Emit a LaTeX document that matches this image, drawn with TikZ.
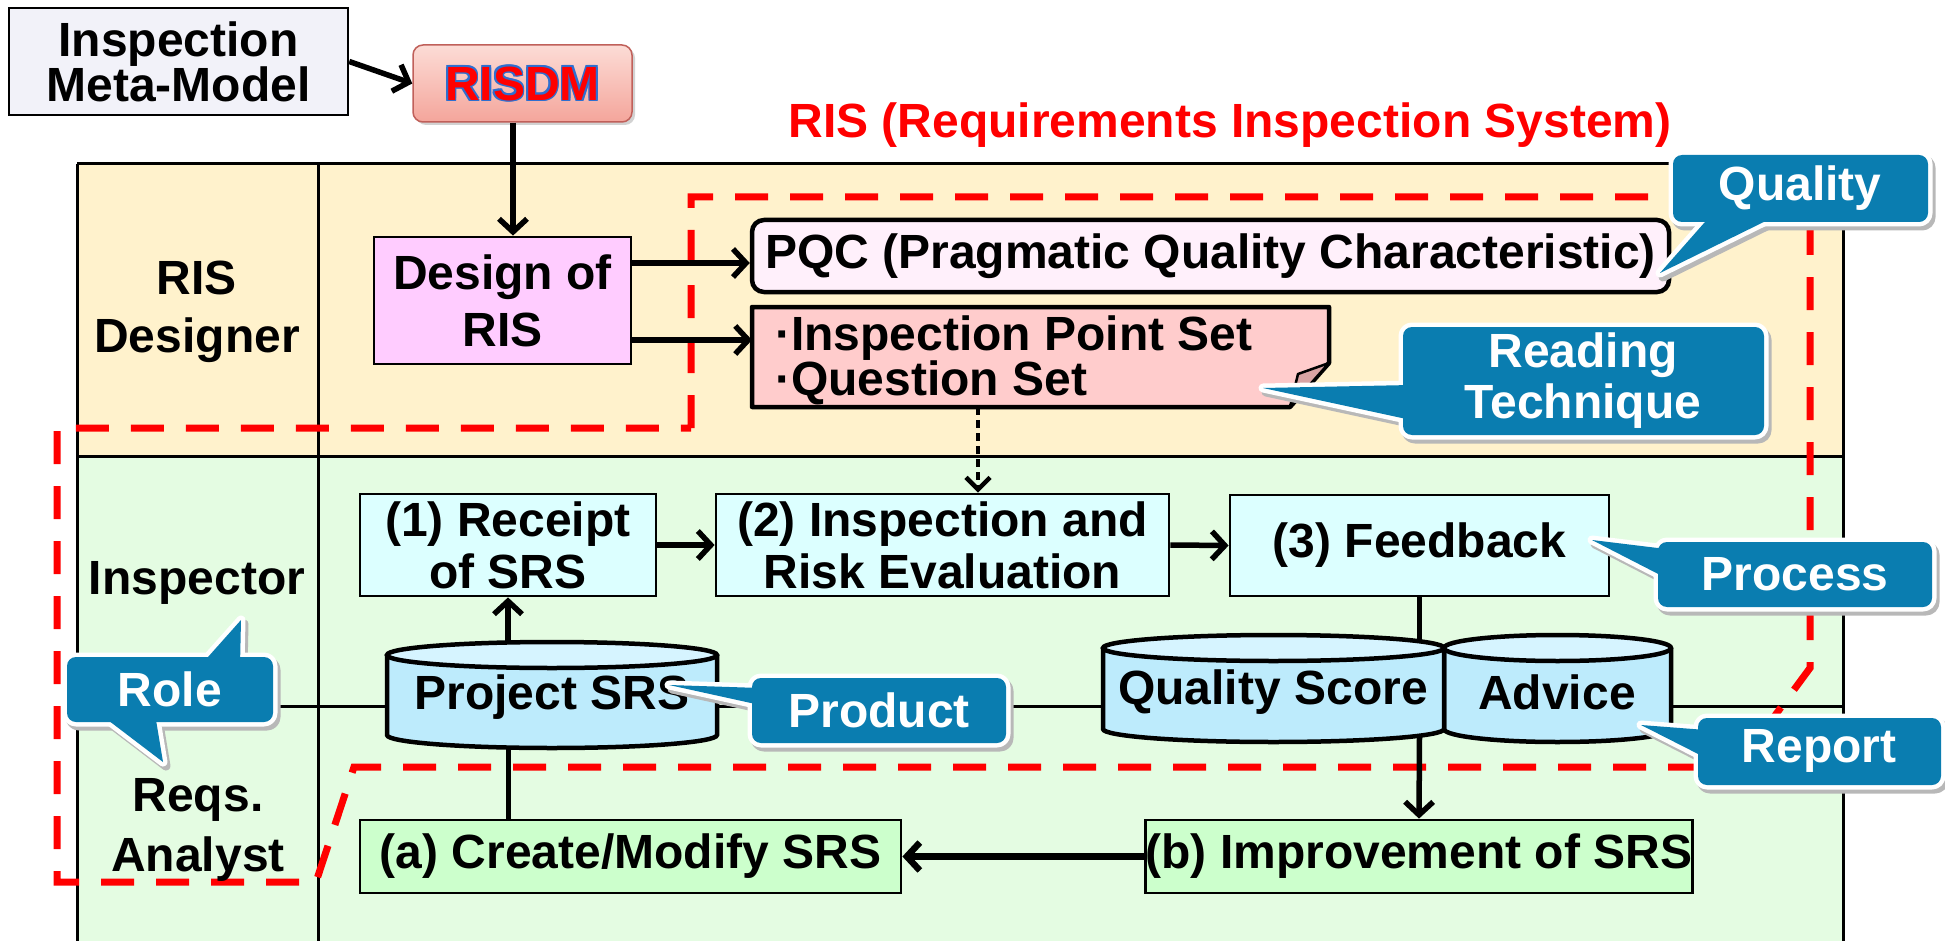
\documentclass[tikz,border=0pt]{standalone}
\usepackage{fontspec}
\setmainfont{Liberation Sans}
\usetikzlibrary{arrows.meta,shadows}
\definecolor{cream}{HTML}{FFF2CC}
\definecolor{mint}{HTML}{E4FCE2}
\definecolor{cyanbox}{HTML}{DCFFFF}
\definecolor{greenbox}{HTML}{CCFFCC}
\definecolor{designfill}{HTML}{FFCCFF}
\definecolor{pqcfill}{HTML}{FFF0FB}
\definecolor{stickyfill}{HTML}{FFCCCC}
\definecolor{flapfill}{HTML}{D9A3A3}
\definecolor{cylbody}{HTML}{BDEBFC}
\definecolor{cyltop}{HTML}{D6F4FF}
\definecolor{coblue}{HTML}{0A7DB0}
\definecolor{metafill}{HTML}{F2F2F9}
\definecolor{risdmtop}{HTML}{FCDCD6}
\definecolor{risdmbot}{HTML}{F4A59B}
\definecolor{risdmedge}{HTML}{C0605A}
\definecolor{olblue}{HTML}{2E6FD0}
\newcommand\myfnt[1]{\bfseries\fontsize{48}{#1}\selectfont}
\newcommand\outl[1]{\leavevmode
 \rlap{\kern1.7pt\textcolor{olblue}{#1}}%
 \rlap{\kern-1.7pt\textcolor{olblue}{#1}}%
 \rlap{\raisebox{1.7pt}{\textcolor{olblue}{#1}}}%
 \rlap{\raisebox{-1.7pt}{\textcolor{olblue}{#1}}}%
 \rlap{\kern1.2pt\raisebox{1.2pt}{\textcolor{olblue}{#1}}}%
 \rlap{\kern-1.2pt\raisebox{1.2pt}{\textcolor{olblue}{#1}}}%
 \rlap{\kern1.2pt\raisebox{-1.2pt}{\textcolor{olblue}{#1}}}%
 \rlap{\kern-1.2pt\raisebox{-1.2pt}{\textcolor{olblue}{#1}}}%
 \textcolor{red}{#1}}
% cylinder: x1, x2, y of top ellipse centre, y of bottom ellipse centre, ry
\newcommand\drum[5]{%
 \pgfmathsetmacro\drumrx{(#2-#1)/2}\pgfmathsetmacro\drumcx{(#1+#2)/2}%
 \path[fill=cylbody] (#1,#3) -- (#1,#4) arc[start angle=180,end angle=0,x radius=\drumrx,y radius=#5] -- (#2,#3) -- cycle;
 \draw[line width=4.5pt] (#1,#3) -- (#1,#4) arc[start angle=180,end angle=0,x radius=\drumrx,y radius=#5] -- (#2,#3);
 \filldraw[fill=cyltop,line width=4.5pt] (\drumcx,#3) ellipse [x radius=\drumrx,y radius=#5];}
% callout: rectangle spec, pointer spec
\newcommand\callout[2]{%
 \path[coshadow,shift={(3,4)},rounded corners=9pt] #1;
 \path[coshadow,shift={(3,4)}] #2 -- cycle;
 \path[coline,rounded corners=9pt] #1;
 \path[coline] #2 -- cycle;
 \path[cofill,rounded corners=9pt] #1;
 \path[cofill] #2 -- cycle;}
\begin{document}
\begin{tikzpicture}[x=1pt,y=-1pt,
  every node/.style={font=\myfnt{52},inner sep=0pt},
  tline/.style={line width=3pt},
  rdash/.style={draw=red,line width=7pt,dash pattern=on 33pt off 22pt},
  plainbox/.style={draw=black,line width=2.8pt,align=center},
  procbox/.style={plainbox,fill=cyanbox},
  actbox/.style={plainbox,fill=greenbox},
  arr/.style={line width=5.5pt,-{Straight Barb[length=13pt,width=28pt]}},
  link/.style={line width=5pt},
  dotarr/.style={line width=4.5pt,dash pattern=on 8pt off 5pt,-{Straight Barb[length=12pt,width=24pt]}},
  cotext/.style={text=white},
  cofill/.style={fill=coblue},
  coline/.style={draw=white,line width=9pt,line join=round},
  coshadow/.style={fill=black!28,draw=black!28,line width=9pt,line join=round}]
\useasboundingbox (0,0) rectangle (1945,941);
% table
\fill[cream] (77,164) rectangle (1843,456);
\fill[mint] (77,456) rectangle (1843,941);
\draw[tline] (77,164) -- (1843,164);
\draw[tline] (77,164) -- (77,941);
\draw[tline] (318,164) -- (318,941);
\draw[tline] (77,456) -- (1843,456);
\draw[tline] (1843,164) -- (1843,941);
\coordinate (rowL) at (77,706);
\coordinate (rowR) at (1843,706);
\draw[tline] (rowL) -- (rowR);
% RIS boundary
\draw[rdash,line join=miter] (691,428) -- (691,197) -- (1810,197) -- (1810,668) -- (1737,767) -- (354,767) -- (316,882) -- (57,882) -- (57,428) -- cycle;
% title and top
\node[text=red] (ttl) at (1230,125) {RIS (Requirements Inspection System)};
\node[draw,line width=2.5pt,fill=metafill,minimum width=339pt,minimum height=107pt,align=center,font=\myfnt{45}] (meta) at (178.5,61.5) {Inspection\\Meta-Model};
\node[rounded corners=10pt,draw=risdmedge,line width=1.5pt,top color=risdmtop,bottom color=risdmbot,minimum width=219pt,minimum height=77pt,drop shadow={shadow xshift=3pt,shadow yshift=-3pt,fill=black!35}] (risdm) at (522.5,83.5) {\outl{RISDM}};
% row labels
\node[align=center,font=\myfnt{58}] (rDes) at (197,312) {RIS\\Designer};
\node (rIns) at (197,583) {Inspector};
\node[align=center,font=\myfnt{60}] (rAna) at (198,830) {Reqs.\\Analyst};
% designer row
\node[plainbox,fill=designfill,minimum width=257pt,minimum height=127pt,font=\myfnt{57}] (design) at (502.5,300.5) {Design of\\RIS};
\node[draw,line width=4.5pt,rounded corners=12pt,fill=pqcfill,minimum width=917pt,minimum height=72pt] (pqc) at (1210.5,256) {PQC (Pragmatic Quality Characteristic)};
\filldraw[fill=stickyfill,line width=4.5pt,line join=round] (752,307) -- (1329,307) -- (1329,363) -- (1290,407) -- (752,407) -- cycle;
\filldraw[fill=flapfill,line width=2.5pt,line join=round] (1329,363) -- (1298,374) -- (1290,407) -- cycle;
\node[anchor=west,align=left,font=\myfnt{45}] (ips) at (775,360) {·Inspection Point Set\\·Question Set};
\coordinate (stickyW) at (752,357);
\coordinate (stickyS) at (978,407);
% inspector row
\node[procbox,minimum width=296pt,minimum height=102pt] (receipt) at (508,545) {(1) Receipt\\of SRS};
\node[procbox,minimum width=453pt,minimum height=102pt] (insp) at (942.5,545) {(2) Inspection and\\Risk Evaluation};
\node[procbox,minimum width=379pt,minimum height=101pt] (feedback) at (1419.5,545.5) {(3) Feedback};
% analyst row
\node[actbox,minimum width=541pt,minimum height=73pt] (create) at (630.5,856.5) {(a) Create/Modify SRS};
\node[actbox,minimum width=542pt,minimum height=73pt] (improve) at (1419,856.5) {(b) Improvement of SRS};
% stores
\drum{387}{717}{655}{735}{13}
\node (psrs) at (552,697) {Project SRS};
\drum{1444}{1671}{648}{729}{13}
\drum{1103}{1444}{648}{729}{13}
\node (qs) at (1273,692) {Quality Score};
\node (adv) at (1557,692) {Advice};
\coordinate (psrsTop) at (508,642.5);
\coordinate (psrsBot) at (508,747);
\coordinate (qsTop) at (1419.5,641);
\coordinate (qsBot) at (1419.5,736);
% connectors
\draw[arr] (meta.east) -- (risdm.west);
\draw[arr] ([xshift=-9.5pt]risdm.south) -- ([xshift=10.5pt]design.north);
\coordinate (d1) at ([yshift=37.5pt]design.east);
\coordinate (d2) at ([yshift=-39.5pt]design.east);
\draw[arr] (d1) -- (d1 -| pqc.west);
\draw[arr] (d2) -- (d2 -| stickyW);
\draw[dotarr] (stickyS) -- (stickyS |- insp.north);
\draw[arr] (receipt.east) -- (insp.west);
\draw[arr] (insp.east) -- (feedback.west);
\draw[arr] (psrsTop) -- (receipt.south);
\draw[link] (create.north -| psrsBot) -- (psrsBot);
\draw[link] (feedback.south) -- (qsTop);
\draw[arr] (qsBot) -- (improve.north);
\draw[arr,line width=6.5pt] (improve.west) -- (create.east);
% callouts
\callout{(1673,155) rectangle (1928,222)}{(1660,273) -- (1712,214) -- (1780,214)}
\node[cotext] (cQual) at (1800,188) {Quality};
\callout{(1403,327) rectangle (1764,435)}{(1263,388) -- (1411,385) -- (1411,420)}
\node[cotext,align=center,font=\myfnt{51}] (cRead) at (1583,381) {Reading\\Technique};
\callout{(1658,542) rectangle (1932,607)}{(1592,540) -- (1666,549) -- (1666,578)}
\node[cotext] (cProc) at (1795,574) {Process};
\callout{(1698,718) rectangle (1941,785)}{(1641,725) -- (1706,730) -- (1706,758)}
\node[cotext] (cRep) at (1819,751) {Report};
\callout{(752,678) rectangle (1006,743)}{(669,685) -- (760,688) -- (760,705)}
\node[cotext] (cProd) at (879,710) {Product};
\callout{(67,657) rectangle (273,722)}{(241,620) -- (200,666) -- (240,666) -- cycle (163,762) -- (100,714) -- (155,714)}
\node[cotext] (cRole) at (170,689) {Role};
\end{tikzpicture}
\end{document}
